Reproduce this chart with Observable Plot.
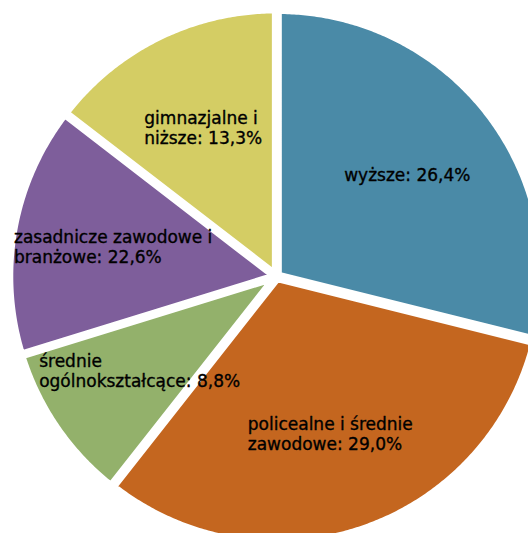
<!DOCTYPE html>
<html><head><meta charset="utf-8">
<script src="https://cdn.jsdelivr.net/npm/d3@7"></script>
<script src="https://cdn.jsdelivr.net/npm/@observablehq/plot@0.6"></script>
<style>html,body{margin:0;padding:0;background:#fff;overflow:hidden}</style>
</head><body><div id="chart"></div>
<script>
// Categories, clockwise from 12 o'clock
const nameLines = [
  ["wyższe"],
  ["policealne i średnie", "zawodowe"],
  ["średnie", "ogólnokształcące"],
  ["zasadnicze zawodowe i", "branżowe"],
  ["gimnazjalne i", "niższe"]
];
const categories = nameLines.map(l => l.join(" "));
// slice sizes as drawn in the picture (%)
const sliceValues = [26.4, 29.0, 8.8, 13.9, 13.3];
// percentages printed in the labels
const labelPercents = ["26,4%", "29,0%", "8,8%", "22,6%", "13,3%"];
const colors = ["#4a8aa7", "#c4661f", "#93b16b", "#7e5e9b", "#d4cd64"];

const W = 528, H = 533;
const cx = 276, cy = 276, R = 265, explode = 2, labelR = 164;
const fontSize = 17, fontFamily = "DejaVu Sans";

const arcs = d3.pie().sort(null).value(d => d)(sliceValues);

const pts = [];
const labels = [];
const ctx = document.createElement("canvas").getContext("2d");
ctx.font = `${fontSize}px "${fontFamily}"`;

arcs.forEach((a, i) => {
  const mid = (a.startAngle + a.endAngle) / 2;
  const ox = explode * Math.sin(mid), oy = -explode * Math.cos(mid);
  const cat = categories[i];
  pts.push({cat, x: ox, y: oy});
  const n = Math.max(2, Math.ceil((a.endAngle - a.startAngle) / (Math.PI / 360)));
  for (let k = 0; k <= n; k++) {
    const t = a.startAngle + (a.endAngle - a.startAngle) * k / n;
    pts.push({cat, x: ox + R * Math.sin(t), y: oy - R * Math.cos(t)});
  }
  pts.push({cat, x: ox, y: oy});

  const lines = nameLines[i].slice();
  lines[lines.length - 1] = lines[lines.length - 1] + ": " + labelPercents[i];
  const w = d3.max(lines, s => ctx.measureText(s).width);
  labels.push({
    text: lines.join("\n"),
    x: ox + labelR * Math.sin(mid) - w / 2,
    y: oy - labelR * Math.cos(mid)
  });
});

const chart = Plot.plot({
  width: W,
  height: H,
  margin: 0,
  x: {domain: [-cx, W - cx], range: [0, W], axis: null},
  y: {domain: [-cy, H - cy], range: [0, H], axis: null},
  color: {domain: categories, range: colors},
  style: {background: "#fff"},
  marks: [
    Plot.line(pts, {x: "x", y: "y", z: "cat", fill: "cat", stroke: "white",
      strokeWidth: 7.5, strokeLinejoin: "round", curve: "linear", clip: true}),
    Plot.text(labels, {x: "x", y: "y", text: "text", textAnchor: "start",
      lineAnchor: "middle", lineHeight: 20 / fontSize, fontSize, fontFamily,
      fill: "#000", stroke: "#000", strokeWidth: 0.35})
  ]
});
document.getElementById("chart").appendChild(chart);
</script>
</body></html>
